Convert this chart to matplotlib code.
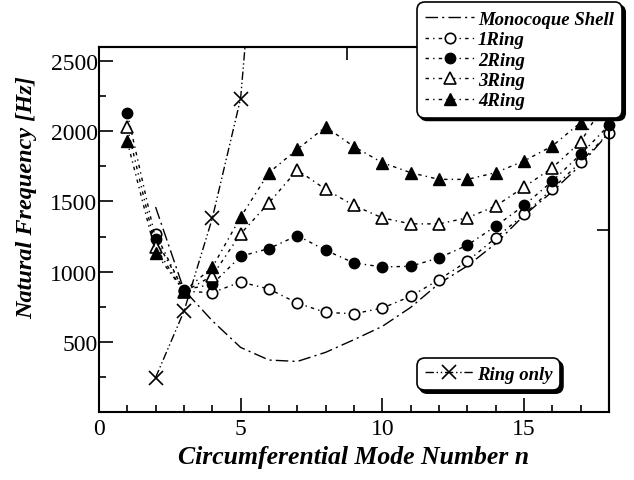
import matplotlib
matplotlib.use("Agg")
import matplotlib.pyplot as plt
import numpy as np

plt.rcParams['font.family'] = ['Liberation Serif', 'DejaVu Serif']

# mode numbers / frequencies [Hz]
n_shell = [2, 3, 4, 5, 6, 7, 8, 9, 10, 11, 12, 13, 14, 15, 16, 17, 18]
f_shell = [1460, 870, 650, 460, 370, 360, 425, 515, 610, 745, 915, 1040, 1200, 1400, 1570, 1760, 1990]

n_1ring = [2, 3, 4, 5, 6, 7, 8, 9, 10, 11, 12, 13, 14, 15, 16, 17, 18]
f_1ring = [1270, 860, 850, 926, 876, 776, 709, 700, 740, 824, 943, 1074, 1240, 1407, 1590, 1781, 1990]

n_ring = [1, 2, 3, 4, 5, 6, 7, 8, 9, 10, 11, 12, 13, 14, 15, 16, 17, 18]
f_2ring = [2128, 1230, 870, 910, 1109, 1164, 1257, 1152, 1062, 1033, 1038, 1098, 1188, 1324, 1471, 1645, 1836, 2043]
f_3ring = [2028, 1175, 855, 970, 1269, 1490, 1724, 1586, 1471, 1383, 1340, 1340, 1383, 1467, 1602, 1740, 1924, 2250]
f_4ring = [1929, 1135, 860, 1030, 1388, 1705, 1871, 2031, 1890, 1776, 1705, 1657, 1657, 1705, 1788, 1895, 2062, 2320]

n_only = [2, 3, 4, 5, 6]
f_only = [245, 717, 1379, 2233, 4600]

fig = plt.figure(figsize=(6.34, 4.81), dpi=100)
ax = fig.add_axes([0.156, 0.1414, 0.8046, 0.7588])

ring_ls = (0, (2.5, 3, 1, 3))
l_shell, = ax.plot(n_shell, f_shell, color='k', lw=1.0, ls=(0, (9, 3, 1.5, 3)),
                   label='Monocoque Shell')
l1, = ax.plot(n_1ring, f_1ring, color='k', lw=1.0, ls=ring_ls, marker='o', ms=7.5,
              mfc='white', mec='k', mew=1.2, clip_on=False, label='1Ring')
l2, = ax.plot(n_ring, f_2ring, color='k', lw=1.0, ls=ring_ls, marker='o', ms=7.5,
              mfc='k', mec='k', clip_on=False, label='2Ring')
l3, = ax.plot(n_ring, f_3ring, color='k', lw=1.0, ls=ring_ls, marker='^', ms=8.5,
              mfc='white', mec='k', mew=1.2, clip_on=False, label='3Ring')
l4, = ax.plot(n_ring, f_4ring, color='k', lw=1.0, ls=ring_ls, marker='^', ms=8.5,
              mfc='k', mec='k', clip_on=False, label='4Ring')
l5, = ax.plot(n_only, f_only, color='k', lw=1.0, ls=(0, (6, 2, 1, 2, 1, 2)),
              marker='x', ms=10, mew=1.2, label='Ring only')

ax.set_xlim(0, 18)
ax.set_ylim(0, 2600)
ax.set_xticks([0, 5, 10, 15])
ax.set_xticks(np.arange(0, 19, 1), minor=True)
ax.set_yticks([500, 1000, 1500, 2000, 2500])
ax.set_yticks(np.arange(250, 2600, 250), minor=True)
ax.tick_params(which='both', direction='in', width=1.2, labelsize=17, pad=4,
               top=False, right=False)
ax.tick_params(which='major', length=10)
ax.tick_params(which='minor', length=5)
ax.tick_params(axis='y', pad=1)
for s in ax.spines.values():
    s.set_linewidth(1.5)

# single ticks on the top and right frame
top = ax.secondary_xaxis('top')
top.set_xticks([8.75])
top.set_xticklabels([''])
top.tick_params(direction='in', length=9, width=1.2)
rgt = ax.secondary_yaxis('right')
rgt.set_yticks([1295])
rgt.set_yticklabels([''])
rgt.tick_params(direction='in', length=9, width=1.2)
top.spines['top'].set_linewidth(1.5)
rgt.spines['right'].set_linewidth(1.5)

ax.set_xlabel('Circumferential Mode Number n', fontsize=18.5, fontweight='bold',
              fontstyle='italic', va='top')
ax.xaxis.set_label_coords(0.5, -0.09)
ax.set_ylabel('Natural Frequency [Hz]', fontsize=17.5, fontweight='bold',
              fontstyle='italic')
ax.yaxis.set_label_coords(-0.12, 0.59)

shadow = {'facecolor': 'k', 'edgecolor': 'k', 'alpha': 1}
font = {'size': 13.5, 'weight': 'bold', 'style': 'italic'}
leg1 = ax.legend(handles=[l_shell, l1, l2, l3, l4], loc='upper left',
                 bbox_to_anchor=(0.631, 1.112), borderaxespad=0, numpoints=1,
                 handlelength=2.6, handletextpad=0.2, labelspacing=0.17,
                 borderpad=0.25, fancybox=True, shadow=shadow, framealpha=1,
                 edgecolor='k', prop=font)
leg1.get_frame().set_linewidth(1.2)
leg1.get_frame().set_boxstyle('round', pad=0.2, rounding_size=0.4)
ax.add_artist(leg1)

leg2 = ax.legend(handles=[l5], loc='upper left', bbox_to_anchor=(0.631, 0.137),
                 borderaxespad=0, numpoints=1, handlelength=2.6, handletextpad=0.2,
                 borderpad=0.2, fancybox=True, shadow=shadow, framealpha=1,
                 edgecolor='k', prop=font)
leg2.get_frame().set_linewidth(1.2)
leg2.get_frame().set_boxstyle('round', pad=0.2, rounding_size=0.4)

fig.savefig('out.png', dpi=100)
